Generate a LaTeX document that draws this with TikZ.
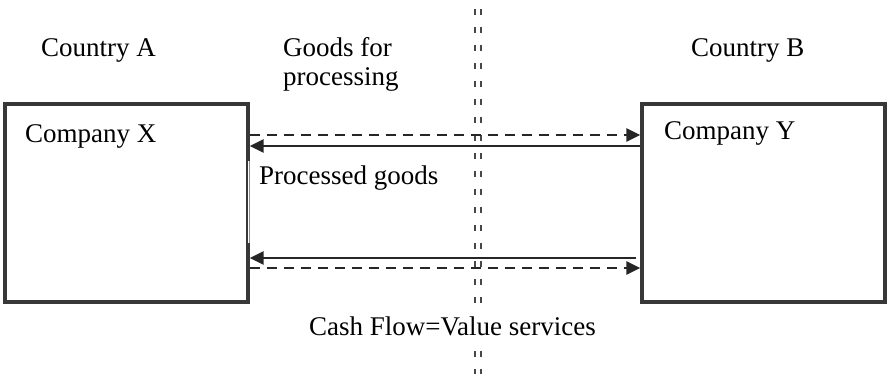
\documentclass[tikz,border=0pt]{standalone}
\usepackage{fontspec}
\setmainfont{Liberation Serif}
\usetikzlibrary{arrows.meta}
\begin{document}
\begin{tikzpicture}[x=1pt,y=-1pt,
  txt/.style={font=\fontsize{27}{32}\selectfont, inner sep=0pt, anchor=base west},
  company/.style={draw=black!78, line width=3.2pt, minimum width=243pt, minimum height=198pt, inner sep=0pt},
  flow/.style={line width=2.8pt, draw=black!85, -{Triangle[length=14pt,width=13pt]}},
  cashflow/.style={flow, dash pattern=on 10pt off 7pt},
  border/.style={draw=black!72, line width=2.2pt, dash pattern=on 6pt off 12pt}]
\useasboundingbox (0,0) rectangle (888,374);

% border between the two countries
\coordinate (btop) at (478,9);
\coordinate (bbot) at (478,374);
\draw[border] ([xshift=-2.8pt]btop) -- ([xshift=-2.8pt]bbot);
\draw[border] ([xshift=2.8pt]btop) -- ([xshift=2.8pt]bbot);

% companies
\node[company] (X) at (126.5,203) {};
\node[company] (Y) at (763.5,203) {};
\draw[white, line width=3.4pt] ([yshift=-40pt]X.east) -- ([yshift=42pt]X.east);
\draw[black!45, line width=0.8pt] ([yshift=-40pt]X.east) -- ([yshift=42pt]X.east);

% flows
\draw[cashflow] (X.east |- 0,135) -- (Y.west |- 0,135);
\draw[flow] (Y.west |- 0,146) -- (X.east |- 0,146);
\draw[flow, shorten <=4pt] (Y.west |- 0,258) -- (X.east |- 0,258);
\draw[cashflow] (X.east |- 0,268) -- (Y.west |- 0,268);

% labels
\node[txt] (ca) at (41,57) {Country A};
\node[txt] (cb) at (691,57) {Country B};
\node[txt] (g1) at (283,57) {Goods for};
\node[txt] (g2) at (283,86) {processing};
\node[txt] (cx) at (25,143) {Company X};
\node[txt] (cy) at (664,140) {Company Y};
\node[txt] (pg) at (259,185) {Processed goods};
\node[txt, fill=white, inner ysep=7pt] (cf) at (309,335) {Cash Flow=Value services};
\end{tikzpicture}
\end{document}
